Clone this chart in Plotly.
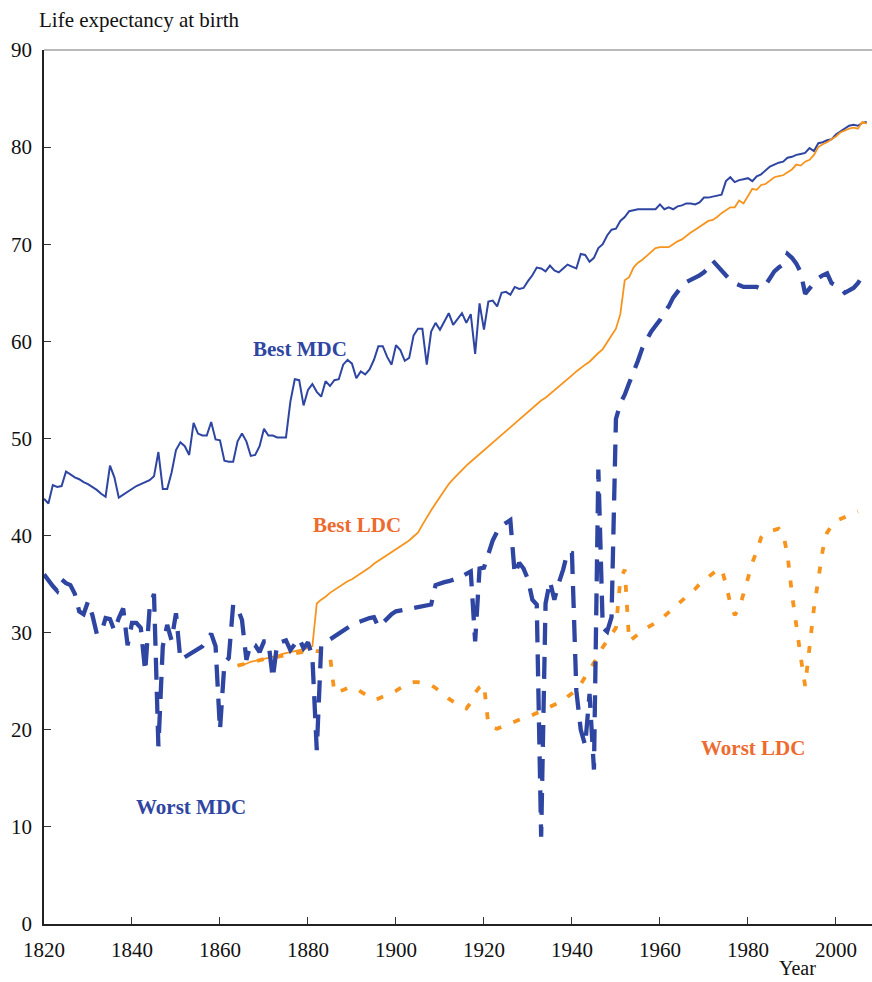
import plotly.graph_objects as go

# ---------------- data ----------------
best_mdc_start = 1820
best_mdc = [
    43.8, 43.3, 45.2, 45.0, 45.1, 46.6, 46.3, 46.0, 45.8, 45.5,
    45.3, 45.0, 44.7, 44.3, 44.0, 47.2, 46.0, 43.9, 44.2, 44.5,
    44.8, 45.1, 45.3, 45.5, 45.7, 46.1, 48.6, 44.8, 44.8, 46.5,
    48.8, 49.6, 49.2, 48.3, 51.6, 50.5, 50.3, 50.3, 51.7, 49.9,
    49.8, 47.7, 47.6, 47.6, 49.7, 50.5, 49.7, 48.2, 48.3, 49.2,
    51.0, 50.3, 50.3, 50.1, 50.1, 50.1, 53.8, 56.1, 56.0, 53.4,
    55.0, 55.6, 54.8, 54.3, 55.9, 55.4, 56.0, 56.1, 57.6, 58.1,
    57.7, 56.2, 56.9, 56.6, 57.1, 58.1, 59.5, 59.5, 58.4, 57.6,
    59.6, 59.1, 58.0, 58.3, 60.6, 61.3, 61.3, 57.6, 61.0, 61.9,
    61.2, 62.1, 62.9, 61.7, 62.3, 62.9, 61.9, 62.8, 58.7, 63.9,
    61.2, 64.1, 64.2, 63.6, 65.0, 65.1, 64.8, 65.6, 65.4, 65.5,
    66.2, 66.8, 67.6, 67.5, 67.2, 67.8, 67.3, 67.1, 67.5, 67.9,
    67.7, 67.5, 69.0, 68.9, 68.2, 68.6, 69.6, 70.0, 70.9, 71.5,
    71.6, 72.4, 72.8, 73.4, 73.5, 73.6, 73.6, 73.6, 73.6, 73.6,
    74.1, 73.6, 73.8, 73.6, 73.9, 74.0, 74.2, 74.2, 74.1, 74.3,
    74.8, 74.8, 74.9, 75.0, 75.1, 76.5, 76.9, 76.4, 76.6, 76.7,
    76.8, 76.5, 77.0, 77.2, 77.6, 78.0, 78.2, 78.4, 78.5, 78.9,
    79.0, 79.2, 79.3, 79.4, 79.9, 79.6, 80.4, 80.5, 80.7, 80.8,
    81.3, 81.6, 81.9, 82.2, 82.3, 82.2, 82.5, 82.6,
]

worst_mdc_start = 1820
worst_mdc = [
    36.0, 35.3, 34.8, 34.3, 35.5, 35.1, 34.9, 34.0, 32.2, 31.9,
    33.2, 31.8, 29.9, 30.0, 31.5, 31.4, 30.2, 31.5, 32.5, 28.7,
    31.0, 31.0, 30.5, 26.0, 32.5, 34.0, 18.3, 28.6, 30.8, 29.2,
    32.0, 27.2, 27.5, 27.8, 28.0, 28.3, 28.6, 29.2, 29.9, 28.6,
    20.0, 26.8, 27.4, 32.9, 32.5, 31.3, 27.2, 28.9, 28.7, 28.0,
    29.1, 29.1, 25.3, 28.9, 29.0, 29.2, 28.2, 28.8, 29.4, 28.4,
    29.0, 27.5, 17.9, 28.6, 29.1, 29.3, 29.6, 30.0, 30.3, 30.6,
    30.8, 31.0, 31.2, 31.3, 31.5, 31.6, 30.6, 31.0, 31.5, 31.9,
    32.2, 32.3, 32.4, 32.5, 32.6, 32.7, 32.8, 32.8, 32.9, 34.9,
    35.1, 35.2, 35.3, 35.4, 35.6, 35.8, 36.0, 36.3, 29.1, 36.6,
    36.7, 38.2, 39.5, 40.4, 41.0, 41.3, 41.6, 36.0, 37.2, 36.6,
    35.5, 33.4, 32.9, 9.0, 33.0, 35.3, 33.4, 35.1, 36.5, 38.3,
    38.2, 24.0, 20.0, 18.4, 23.7, 15.9, 46.8, 30.5, 30.1, 31.6,
    52.0, 53.6, 54.5, 55.7, 56.8, 58.0, 59.3, 60.2, 61.0, 61.6,
    62.2, 63.0, 63.6, 64.5, 65.2, 65.7, 66.1, 66.3, 66.5, 66.8,
    67.1, 67.6, 68.3, 67.8, 67.3, 66.8, 66.3, 66.0, 65.8, 65.6,
    65.6, 65.6, 65.6, 65.4, 65.8, 66.5, 67.2, 67.6, 67.9, 69.0,
    68.6, 68.0, 67.1, 64.9, 65.4, 65.9, 66.5, 66.8, 67.0, 66.0,
    65.8, 65.5, 65.0, 65.2, 65.5, 66.0, 66.7,
]

best_ldc_start = 1864
best_ldc = [
    26.6, 26.7, 26.8, 27.0, 27.1, 27.2, 27.3, 27.4, 27.5, 27.6,
    27.8, 27.9, 28.0, 28.1, 28.2, 28.3, 28.4, 28.6, 33.0, 33.4,
    33.7, 34.1, 34.4, 34.7, 35.0, 35.3, 35.5, 35.8, 36.1, 36.4,
    36.7, 37.1, 37.4, 37.7, 38.0, 38.3, 38.6, 38.9, 39.2, 39.5,
    39.9, 40.3, 41.1, 41.9, 42.6, 43.3, 44.0, 44.7, 45.3, 45.8,
    46.3, 46.8, 47.2, 47.6, 48.0, 48.3, 48.7, 49.1, 49.5, 49.9,
    50.3, 50.7, 51.1, 51.5, 51.9, 52.3, 52.7, 53.1, 53.5, 53.9,
    54.2, 54.6, 55.0, 55.3, 55.7, 56.1, 56.5, 56.9, 57.3, 57.6,
    57.9, 58.4, 58.8, 59.2, 59.9, 60.6, 61.3, 62.8, 66.3, 66.6,
    67.6, 68.1, 68.4, 68.8, 69.2, 69.6, 69.7, 69.7, 69.7, 70.0,
    70.3, 70.5, 70.9, 71.2, 71.5, 71.8, 72.1, 72.4, 72.5, 72.8,
    73.2, 73.5, 73.8, 73.8, 74.5, 74.2, 75.0, 75.7, 75.6, 76.1,
    76.2, 76.6, 76.9, 77.0, 77.1, 77.4, 77.7, 78.2, 78.1, 78.5,
    78.7, 79.2, 80.0, 80.3, 80.5, 80.8, 81.1, 81.5, 81.7, 81.9,
    82.0, 81.9, 82.6, 82.4,
]

worst_ldc_start = 1864
worst_ldc = [
    26.6, 26.7, 26.9, 27.0, 27.1, 27.2, 27.3, 27.4, 27.5, 27.5,
    27.6, 27.7, 27.8, 27.9, 27.9, 28.0, 28.1, 28.2, 28.1, 28.1,
    28.0, 27.7, 23.8, 23.9, 24.1, 24.3, 24.4, 24.2, 23.9, 23.6,
    23.3, 23.1, 23.2, 23.4, 23.6, 23.7, 24.0, 24.3, 24.6, 24.8,
    24.9, 24.9, 24.8, 24.7, 24.6, 24.3, 23.9, 23.5, 23.2, 22.9,
    22.6, 22.4, 22.2, 22.8, 23.8, 24.4, 24.7, 20.5, 20.2, 20.1,
    20.3, 20.5, 20.7, 20.8, 21.0, 21.2, 21.3, 21.5, 21.7, 21.9,
    22.1, 22.3, 22.5, 22.7, 23.0, 23.4, 23.8, 24.1, 24.7, 25.5,
    26.2, 26.9, 27.6, 28.5, 29.2, 29.8, 30.5, 35.5, 36.5, 29.1,
    29.5, 29.9, 30.2, 30.5, 30.7, 31.0, 31.3, 31.7, 32.0, 32.4,
    32.8, 33.2, 33.6, 34.0, 34.5, 35.0, 35.4, 35.8, 36.1, 36.4,
    36.6, 35.0, 33.0, 31.8, 32.5, 34.0, 35.8, 37.2, 38.4, 39.8,
    40.3, 40.4, 40.6, 40.7, 40.2, 38.0, 34.0, 30.5, 27.5, 24.5,
    28.5, 32.5, 35.5, 38.5, 40.3, 41.0, 41.5, 41.7, 41.9, 42.1,
    42.3, 42.5,
]

x_ticks = [1820, 1840, 1860, 1880, 1900, 1920, 1940, 1960, 1980, 2000]
y_ticks = [0, 10, 20, 30, 40, 50, 60, 70, 80, 90]

series_labels = ["Best MDC", "Best LDC", "Worst MDC", "Worst LDC"]


def years(start, vals):
    return list(range(start, start + len(vals)))


BLUE = "#2E45A1"
ORANGE = "#F7941D"
LABEL_ORANGE = "#EE6A2E"
FONT = "Liberation Serif, Times New Roman, serif"

fig = go.Figure()
fig.add_trace(go.Scatter(x=years(best_mdc_start, best_mdc), y=best_mdc, mode="lines",
                         line=dict(color=BLUE, width=2), name=series_labels[0]))
fig.add_trace(go.Scatter(x=years(best_ldc_start, best_ldc), y=best_ldc, mode="lines",
                         line=dict(color=ORANGE, width=1.8), name=series_labels[1]))
fig.add_trace(go.Scatter(x=years(worst_ldc_start, worst_ldc), y=worst_ldc, mode="lines",
                         line=dict(color=ORANGE, width=3.8, dash="7px,13px"), name=series_labels[3]))
fig.add_trace(go.Scatter(x=years(worst_mdc_start, worst_mdc), y=worst_mdc, mode="lines",
                         line=dict(color=BLUE, width=4.3, dash="22px,12px"), name=series_labels[2]))

label_font = dict(family=FONT, size=21)
fig.add_annotation(x=1878.2, y=59.2, text="<b>Best MDC</b>", showarrow=False,
                   font=dict(**label_font, color=BLUE))
fig.add_annotation(x=1891.1, y=41.1, text="<b>Best LDC</b>", showarrow=False,
                   font=dict(**label_font, color=LABEL_ORANGE))
fig.add_annotation(x=1853.4, y=12.0, text="<b>Worst MDC</b>", showarrow=False,
                   font=dict(**label_font, color=BLUE))
fig.add_annotation(x=1981.1, y=18.1, text="<b>Worst LDC</b>", showarrow=False,
                   font=dict(**label_font, color=LABEL_ORANGE))

fig.add_annotation(xref="paper", yref="paper", x=-7 / 828, y=1.034, xanchor="left", yanchor="middle",
                   text="Life expectancy at birth", showarrow=False,
                   font=dict(family=FONT, size=21, color="#111"))
fig.add_annotation(xref="paper", yref="paper", x=0.9106, y=-0.0505, xanchor="center", yanchor="middle",
                   text="Year", showarrow=False, font=dict(family=FONT, size=20, color="#111"))

# top frame line
fig.add_shape(type="line", xref="paper", yref="paper", x0=0, x1=1, y0=1, y1=1,
              line=dict(color="#777", width=1.2))

fig.update_layout(
    width=872, height=982,
    margin=dict(l=44, r=0, t=50, b=58),
    paper_bgcolor="white", plot_bgcolor="white",
    showlegend=False,
    font=dict(family=FONT, size=21, color="#111"),
    xaxis=dict(range=[1820, 2008.2], tickmode="array", tickvals=x_ticks,
               ticktext=[str(v) for v in x_ticks], ticks="inside", ticklen=7,
               tickcolor="#333", showline=True, linecolor="#222", linewidth=1.5,
               showgrid=False, zeroline=False, ticklabelstandoff=6),
    yaxis=dict(range=[0, 90], tickmode="array", tickvals=y_ticks,
               ticktext=[str(v) for v in y_ticks], ticks="inside", ticklen=7,
               tickcolor="#333", showline=True, linecolor="#222", linewidth=1.5,
               showgrid=False, zeroline=False, ticklabelstandoff=6),
)

fig.write_html("out.html")
